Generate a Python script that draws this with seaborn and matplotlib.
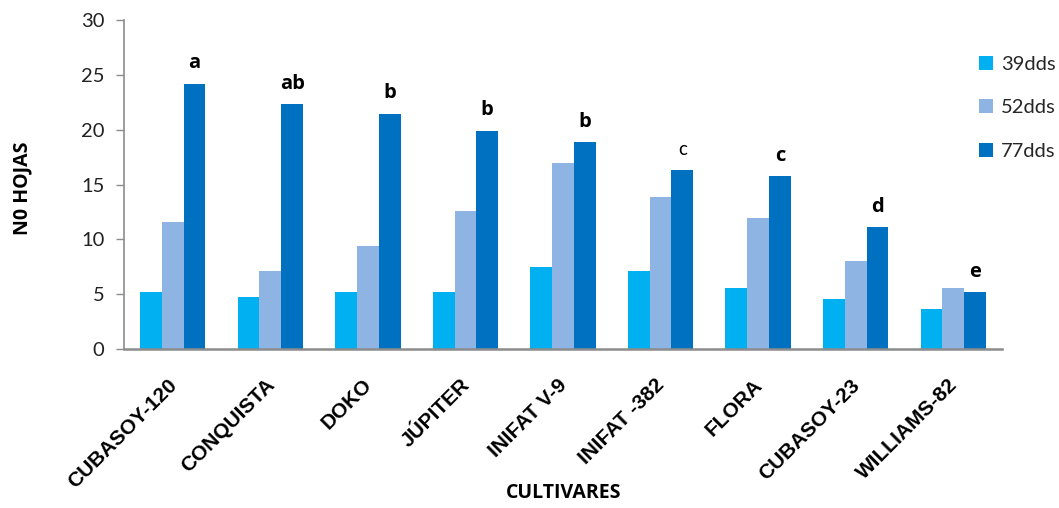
import matplotlib
matplotlib.use("Agg")
import matplotlib.pyplot as plt
import matplotlib.transforms as mtransforms
import seaborn as sns
import pandas as pd

# Leaf counts per cultivar at three sampling dates
cultivares = ["CUBASOY-120", "CONQUISTA", "DOKO", "JÚPITER", "INIFAT V-9",
              "INIFAT -382", "FLORA", "CUBASOY-23", "WILLIAMS-82"]
series = ["39dds", "52dds", "77dds"]
v39 = [5.2, 4.7, 5.2, 5.2, 7.45, 7.1, 5.55, 4.55, 3.65]
v52 = [11.6, 7.1, 9.4, 12.6, 16.95, 13.85, 11.95, 8.0, 5.55]
v77 = [24.2, 22.3, 21.45, 19.9, 18.85, 16.3, 15.75, 11.1, 5.2]
letras = ["a", "ab", "b", "b", "b", "c", "c", "d", "e"]
letras_negrita = [True, True, True, True, True, False, True, True, True]
colores = ["#00B0F0", "#8DB4E2", "#0070C0"]

df = pd.DataFrame({
    "cultivar": cultivares * 3,
    "serie": [s for s in series for _ in cultivares],
    "hojas": v39 + v52 + v77,
})

sns.set_theme(style="white")
body_font = ["Lato", "DejaVu Sans"]
bold_font = ["Open Sans", "DejaVu Sans"]
arial_font = ["Liberation Sans", "DejaVu Sans"]
plt.rcParams["font.family"] = body_font

fig = plt.figure(figsize=(10.59, 5.08), dpi=100)
ax = fig.add_axes([124 / 1059, 1 - 349 / 508, (1002 - 124) / 1059, (349 - 20) / 508])

sns.barplot(data=df, x="cultivar", y="hojas", hue="serie", order=cultivares,
            hue_order=series, palette=colores, saturation=1, width=0.67,
            edgecolor="none", ax=ax)

ax.set_ylim(0, 30)
ax.set_yticks(range(0, 31, 5))
ax.set_xlim(-0.5, len(cultivares) - 0.5)

for side in ["top", "right"]:
    ax.spines[side].set_visible(False)
for side in ["left", "bottom"]:
    ax.spines[side].set_color("#8c8c8c")
    ax.spines[side].set_linewidth(1.2)
ax.spines["bottom"].set_linewidth(1.8)

ax.tick_params(axis="y", which="major", left=True, length=6, width=1.0,
               color="#8c8c8c", labelsize=14.5, pad=8, labelcolor="#222222")
ax.tick_params(axis="x", bottom=False, pad=13)
shift = mtransforms.ScaledTranslation(8 / 100, 0, fig.dpi_scale_trans)
for lab in ax.get_xticklabels():
    lab.set_rotation(45)
    lab.set_ha("right")
    lab.set_va("top")
    lab.set_rotation_mode("default")
    lab.set_fontfamily(arial_font)
    lab.set_fontweight("bold")
    lab.set_fontsize(15)
    lab.set_color("black")
    lab.set_transform(lab.get_transform() + shift)

ax.set_xlabel("")
ax.set_ylabel("")
fig.text(564 / 1059, 1 - 493 / 508, "CULTIVARES", ha="center", va="center",
         fontsize=14, fontweight="bold", family=bold_font, color="black")
fig.text(22 / 1059, 1 - 188 / 508, "N0 HOJAS", ha="center", va="center",
         rotation=90, fontsize=14, fontweight="bold", family=bold_font,
         color="black")

# Significance letters above the 77dds bars
for bar, val, txt, bold in zip(ax.containers[2], v77, letras, letras_negrita):
    ax.text(bar.get_x() + bar.get_width() / 2, val + 1.4, txt,
            ha="center", va="baseline", fontsize=14.5 if bold else 13.5,
            fontweight="bold" if bold else "normal",
            family=bold_font if bold else body_font, color="black")

handles, labels = ax.get_legend_handles_labels()
ax.legend(handles, labels, loc="upper left", bbox_to_anchor=(971 / 1059, 1 - 48 / 508),
          bbox_transform=fig.transFigure, frameon=False, fontsize=14.5,
          handlelength=0.7, handleheight=0.7, handletextpad=0.4,
          labelspacing=1.3, borderaxespad=0)

fig.savefig("out.png", dpi=100)
